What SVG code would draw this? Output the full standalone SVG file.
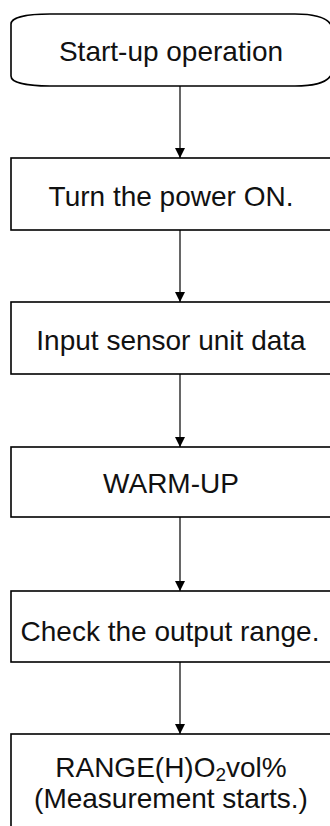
<svg xmlns="http://www.w3.org/2000/svg" width="330" height="826" viewBox="0 0 330 826">
<style>
.box{fill:#fff;stroke:#000;stroke-width:1.6}
.lbl{font-family:"Liberation Sans",Arial,sans-serif;font-size:28px;fill:#111;text-anchor:middle}
.conn{stroke:#000;stroke-width:1.2;fill:none}
</style>
<defs>
<marker id="arr" viewBox="0 0 10 10" refX="10" refY="5" markerWidth="10" markerHeight="10" markerUnits="userSpaceOnUse" orient="auto">
<path d="M0,0 L10,5 L0,10 Z" fill="#000"/>
</marker>
</defs>
<rect width="330" height="826" fill="#fff"/>
<g id="connectors">
<line class="conn" x1="180" y1="86" x2="180" y2="158" marker-end="url(#arr)"/>
<line class="conn" x1="180" y1="230" x2="180" y2="302" marker-end="url(#arr)"/>
<line class="conn" x1="180" y1="374" x2="180" y2="447" marker-end="url(#arr)"/>
<line class="conn" x1="180" y1="517" x2="180" y2="591" marker-end="url(#arr)"/>
<line class="conn" x1="180" y1="662" x2="180" y2="734" marker-end="url(#arr)"/>
</g>
<g id="start">
<path class="box" d="M11,24 C11,17 28,14 50,14 H295 C320,14 333,20 333,32 V68 C333,80 320,86 295,86 H50 C28,86 11,83 11,76 Z"/>
<text class="lbl" x="171" y="61">Start-up operation</text>
</g>
<g id="power">
<rect class="box" x="11" y="158" width="322" height="72"/>
<text class="lbl" x="171" y="206">Turn the power ON.</text>
</g>
<g id="sensor">
<rect class="box" x="11" y="302" width="322" height="72"/>
<text class="lbl" x="171" y="350">Input sensor unit data</text>
</g>
<g id="warmup">
<rect class="box" x="11" y="447" width="322" height="70"/>
<text class="lbl" x="171" y="493">WARM-UP</text>
</g>
<g id="range">
<rect class="box" x="11" y="591" width="322" height="71"/>
<text class="lbl" x="170" y="641">Check the output range.</text>
</g>
<g id="measure">
<rect class="box" x="11" y="734" width="322" height="110"/>
<text class="lbl" x="171" y="777">RANGE(H)O<tspan font-size="19" dy="4">2</tspan><tspan dy="-4">vol%</tspan></text>
<text class="lbl" x="171" y="808">(Measurement starts.)</text>
</g>
</svg>
